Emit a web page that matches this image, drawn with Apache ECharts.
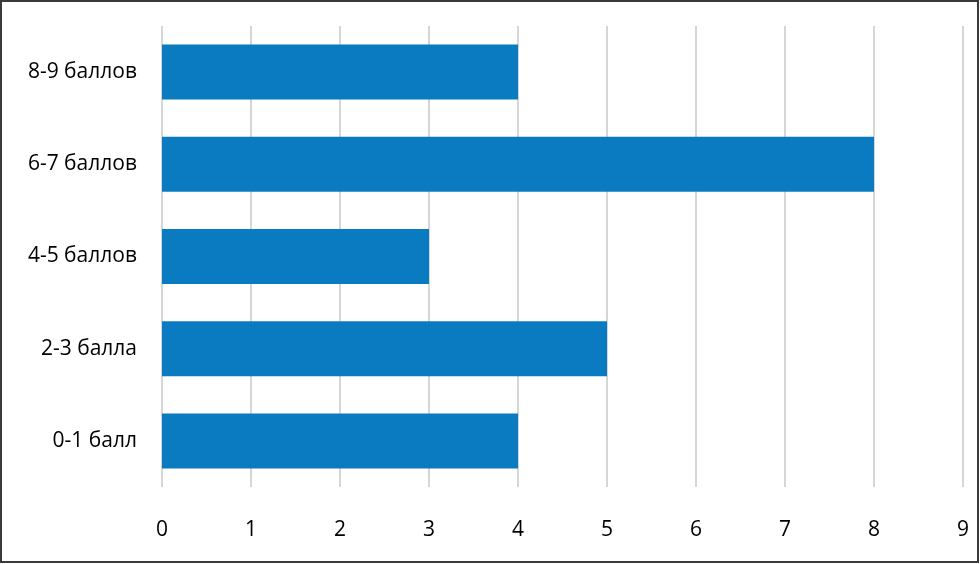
<!DOCTYPE html>
<html>
<head>
<meta charset="utf-8">
<script src="https://cdn.jsdelivr.net/npm/echarts@6/dist/echarts.min.js"></script>
<style>
  html, body { margin: 0; padding: 0; background: #fff; }
  #chart { width: 980px; height: 564px; }
</style>
</head>
<body>
<div id="chart"></div>
<script>
// categories, bottom to top
var categories = ['0-1 балл', '2-3 балла', '4-5 баллов', '6-7 баллов', '8-9 баллов'];
var counts = [4, 5, 3, 8, 4];
var xTicks = [0, 1, 2, 3, 4, 5, 6, 7, 8, 9];

var chart = echarts.init(document.getElementById('chart'));
var font = 'Open Sans, Liberation Sans, sans-serif';

chart.setOption({
    animation: false,
    backgroundColor: '#fff',
    graphic: [{
        type: 'rect',
        shape: {x: 1, y: 1, width: 977, height: 561},
        style: {fill: 'none', stroke: '#3a3a3a', lineWidth: 2},
        z: 100
    }],
    grid: {left: 162, right: 17, top: 26, bottom: 77},
    xAxis: {
        type: 'value',
        min: xTicks[0],
        max: xTicks[xTicks.length - 1],
        interval: 1,
        axisLine: {show: false},
        axisTick: {show: false},
        splitLine: {lineStyle: {color: '#d6d6d6', width: 2}},
        axisLabel: {margin: 33, color: '#000', fontSize: 21, fontFamily: font}
    },
    yAxis: {
        type: 'category',
        data: categories,
        axisLine: {show: false},
        axisTick: {show: false},
        axisLabel: {margin: 25, color: '#000', fontSize: 21, fontFamily: font}
    },
    series: [{
        type: 'bar',
        data: counts,
        barWidth: 55,
        itemStyle: {color: '#0a7bc1'}
    }]
});
</script>
</body>
</html>
